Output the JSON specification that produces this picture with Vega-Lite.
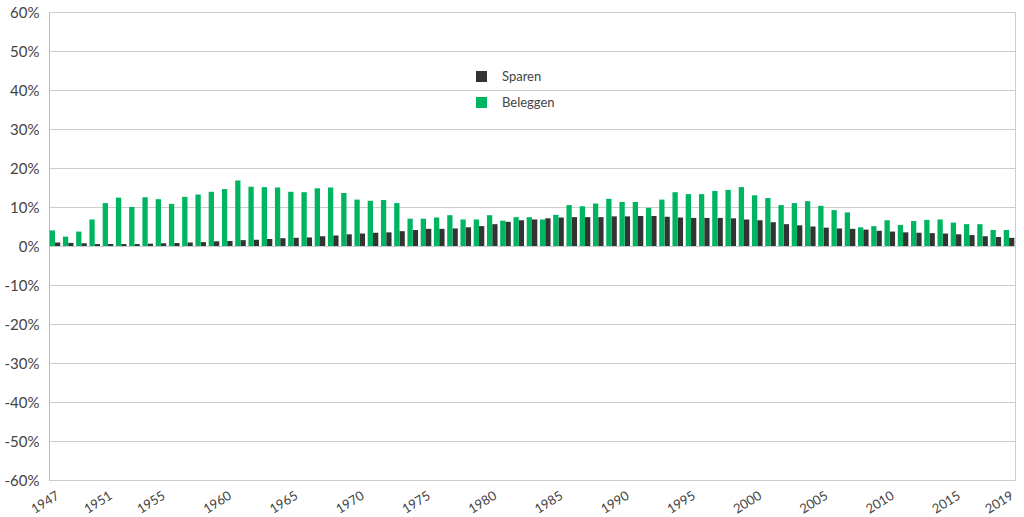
{
  "$schema": "https://vega.github.io/schema/vega-lite/v6.json",
  "width": 966,
  "height": 468,
  "autosize": {"type": "none"},
  "padding": {"left": 49, "top": 12, "right": 9, "bottom": 37},
  "background": "white",
  "config": {
    "view": {"stroke": "#cccccc", "strokeWidth": 1},
    "font": "Lato"
  },
  "data": {
    "values": [
      {"year": 1947, "Sparen": 0.9, "Beleggen": 4.0},
      {"year": 1948, "Sparen": 0.8, "Beleggen": 2.4},
      {"year": 1949, "Sparen": 0.7, "Beleggen": 3.7},
      {"year": 1950, "Sparen": 0.5, "Beleggen": 6.8},
      {"year": 1951, "Sparen": 0.5, "Beleggen": 11.0},
      {"year": 1952, "Sparen": 0.5, "Beleggen": 12.4},
      {"year": 1953, "Sparen": 0.5, "Beleggen": 10.0},
      {"year": 1954, "Sparen": 0.6, "Beleggen": 12.5},
      {"year": 1955, "Sparen": 0.7, "Beleggen": 12.0},
      {"year": 1956, "Sparen": 0.8, "Beleggen": 10.8},
      {"year": 1957, "Sparen": 0.9, "Beleggen": 12.6},
      {"year": 1958, "Sparen": 1.0, "Beleggen": 13.2},
      {"year": 1959, "Sparen": 1.2, "Beleggen": 13.9},
      {"year": 1960, "Sparen": 1.3, "Beleggen": 14.6},
      {"year": 1961, "Sparen": 1.5, "Beleggen": 16.8},
      {"year": 1962, "Sparen": 1.6, "Beleggen": 15.2},
      {"year": 1963, "Sparen": 1.8, "Beleggen": 15.1},
      {"year": 1964, "Sparen": 2.0, "Beleggen": 15.0},
      {"year": 1965, "Sparen": 2.1, "Beleggen": 13.9},
      {"year": 1966, "Sparen": 2.2, "Beleggen": 13.8},
      {"year": 1967, "Sparen": 2.5, "Beleggen": 14.8},
      {"year": 1968, "Sparen": 2.7, "Beleggen": 15.0},
      {"year": 1969, "Sparen": 3.0, "Beleggen": 13.6},
      {"year": 1970, "Sparen": 3.2, "Beleggen": 11.9},
      {"year": 1971, "Sparen": 3.4, "Beleggen": 11.6},
      {"year": 1972, "Sparen": 3.5, "Beleggen": 11.8},
      {"year": 1973, "Sparen": 3.8, "Beleggen": 11.0},
      {"year": 1974, "Sparen": 4.1, "Beleggen": 7.0},
      {"year": 1975, "Sparen": 4.4, "Beleggen": 7.0},
      {"year": 1976, "Sparen": 4.4, "Beleggen": 7.3},
      {"year": 1977, "Sparen": 4.5, "Beleggen": 7.9},
      {"year": 1978, "Sparen": 4.8, "Beleggen": 6.8},
      {"year": 1979, "Sparen": 5.1, "Beleggen": 6.8},
      {"year": 1980, "Sparen": 5.6, "Beleggen": 7.9},
      {"year": 1981, "Sparen": 6.2, "Beleggen": 6.5},
      {"year": 1982, "Sparen": 6.6, "Beleggen": 7.4},
      {"year": 1983, "Sparen": 6.8, "Beleggen": 7.4},
      {"year": 1984, "Sparen": 7.1, "Beleggen": 6.8},
      {"year": 1985, "Sparen": 7.3, "Beleggen": 8.0},
      {"year": 1986, "Sparen": 7.4, "Beleggen": 10.5},
      {"year": 1987, "Sparen": 7.4, "Beleggen": 10.2},
      {"year": 1988, "Sparen": 7.4, "Beleggen": 10.9},
      {"year": 1989, "Sparen": 7.6, "Beleggen": 12.1},
      {"year": 1990, "Sparen": 7.6, "Beleggen": 11.3},
      {"year": 1991, "Sparen": 7.7, "Beleggen": 11.3},
      {"year": 1992, "Sparen": 7.7, "Beleggen": 9.8},
      {"year": 1993, "Sparen": 7.5, "Beleggen": 11.9},
      {"year": 1994, "Sparen": 7.3, "Beleggen": 13.8},
      {"year": 1995, "Sparen": 7.2, "Beleggen": 13.3},
      {"year": 1996, "Sparen": 7.2, "Beleggen": 13.3},
      {"year": 1997, "Sparen": 7.2, "Beleggen": 14.1},
      {"year": 1998, "Sparen": 7.1, "Beleggen": 14.4},
      {"year": 1999, "Sparen": 6.8, "Beleggen": 15.1},
      {"year": 2000, "Sparen": 6.6, "Beleggen": 13.0},
      {"year": 2001, "Sparen": 6.1, "Beleggen": 12.3},
      {"year": 2002, "Sparen": 5.6, "Beleggen": 10.5},
      {"year": 2003, "Sparen": 5.3, "Beleggen": 11.0},
      {"year": 2004, "Sparen": 5.0, "Beleggen": 11.5},
      {"year": 2005, "Sparen": 4.7, "Beleggen": 10.3},
      {"year": 2006, "Sparen": 4.5, "Beleggen": 9.2},
      {"year": 2007, "Sparen": 4.4, "Beleggen": 8.6},
      {"year": 2008, "Sparen": 4.2, "Beleggen": 4.8},
      {"year": 2009, "Sparen": 3.9, "Beleggen": 5.1},
      {"year": 2010, "Sparen": 3.7, "Beleggen": 6.6},
      {"year": 2011, "Sparen": 3.5, "Beleggen": 5.4},
      {"year": 2012, "Sparen": 3.4, "Beleggen": 6.4},
      {"year": 2013, "Sparen": 3.3, "Beleggen": 6.7},
      {"year": 2014, "Sparen": 3.2, "Beleggen": 6.8},
      {"year": 2015, "Sparen": 3.0, "Beleggen": 6.0},
      {"year": 2016, "Sparen": 2.8, "Beleggen": 5.6},
      {"year": 2017, "Sparen": 2.5, "Beleggen": 5.6},
      {"year": 2018, "Sparen": 2.3, "Beleggen": 4.1},
      {"year": 2019, "Sparen": 2.1, "Beleggen": 4.1}
    ]
  },
  "transform": [
    {"fold": ["Sparen", "Beleggen"], "as": ["reeks", "rendement"]}
  ],
  "mark": {"type": "bar"},
  "encoding": {
    "x": {
      "field": "year",
      "type": "ordinal",
      "scale": {"paddingInner": 0.2, "paddingOuter": 0.05},
      "axis": {
        "title": null,
        "values": [1947, 1951, 1955, 1960, 1965, 1970, 1975, 1980, 1985, 1990, 1995, 2000, 2005, 2010, 2015, 2019],
        "labelAngle": -32,
        "labelAlign": "right",
        "labelBaseline": "top",
        "labelFontSize": 13,
        "labelColor": "#444444",
        "labelPadding": 9,
        "ticks": false,
        "domain": false,
        "grid": false
      }
    },
    "xOffset": {
      "field": "reeks",
      "type": "nominal",
      "scale": {"domain": ["Beleggen", "Sparen"], "paddingInner": 0}
    },
    "y": {
      "field": "rendement",
      "type": "quantitative",
      "scale": {"domain": [-60, 60], "nice": false, "zero": true},
      "axis": {
        "title": null,
        "values": [-60, -50, -40, -30, -20, -10, 0, 10, 20, 30, 40, 50, 60],
        "labelExpr": "datum.value + '%'",
        "labelFontSize": 15,
        "labelColor": "#444444",
        "labelPadding": 10,
        "ticks": false,
        "domain": true,
        "domainColor": "#bbbbbb",
        "grid": true,
        "gridColor": "#cccccc",
        "gridWidth": 1
      }
    },
    "color": {
      "field": "reeks",
      "type": "nominal",
      "scale": {"domain": ["Sparen", "Beleggen"], "range": ["#333333", "#00b562"]},
      "legend": {
        "title": null,
        "orient": "none",
        "legendX": 426,
        "legendY": 58,
        "padding": 0,
        "symbolType": "square",
        "symbolSize": 121,
        "symbolStrokeWidth": 0,
        "labelFontSize": 13,
        "labelColor": "#444444",
        "labelOffset": 14,
        "rowPadding": 12
      }
    }
  }
}
